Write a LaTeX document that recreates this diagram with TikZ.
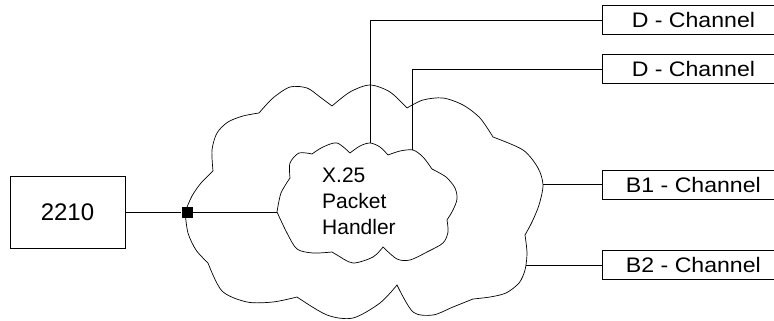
\documentclass[tikz,border=0pt]{standalone}
\usepackage{fontspec}
\setmainfont{Liberation Sans}
\newfontfamily\chanfont[FakeStretch=1.1]{Liberation Sans}
\usetikzlibrary{calc}

\tikzset{
	cloud/.style={line width=0.7pt},
	wire/.style={line width=0.7pt},
	chanbox/.style={draw,line width=0.8pt,anchor=west,minimum width=182pt,minimum height=29pt,inner sep=0pt,font=\chanfont\fontsize{21}{24}\selectfont}
}

\begin{document}
\begin{tikzpicture}[x=1pt,y=-1pt]
					\clip (0,0) rectangle (774,321);
					%OUTER CLOUD
					\draw[cloud] plot[smooth] coordinates {(185,212) (192,196) (201,183) (213,171)}
						--plot[smooth] coordinates {(213,171) (212,150) (217,133) (228,122) (243,116) (259,113)}
						--plot[smooth] coordinates {(259,113) (273,98) (290,87) (307,88) (320,97) (332,106)}
						--plot[smooth] coordinates {(332,106) (350,92) (370,85) (390,92) (407,108)}
						--plot[smooth] coordinates {(407,108) (423,100) (443,98) (463,105) (480,118) (493,137)}
						--plot[smooth] coordinates {(493,137) (523,150) (538,168) (543,185) (539,205) (532,222) (525,235)}
						--plot[smooth] coordinates {(525,235) (527,253) (525,270) (519,283) (506,293) (490,297) (473,299)}
						--plot[smooth] coordinates {(473,299) (453,307) (433,315) (413,312) (397,285)}
						--plot[smooth] coordinates {(397,285) (380,303) (353,318) (327,315) (297,297)}
						--plot[smooth] coordinates {(297,297) (273,302) (247,302) (222,291) (208,263)}
						--plot[smooth] coordinates {(208,263) (196,250) (188,233) (185,212)};
					%INNER CLOUD
					\draw[cloud] plot[smooth] coordinates {(277,212) (281,193) (290,178)}
						--plot[smooth] coordinates {(290,178) (290,163) (299,153) (312,154)}
						--plot[smooth] coordinates {(312,154) (323,147) (337,143) (350,153)}
						--plot[smooth] coordinates {(350,153) (360,146) (370,143) (380,147) (388,155)}
						--plot[smooth] coordinates {(388,155) (400,151) (413,150) (423,157) (432,169)}
						--plot[smooth] coordinates {(432,169) (446,177) (455,188) (457,199) (453,210) (447,220)}
						--plot[smooth] coordinates {(447,220) (448,232) (443,243) (427,252) (410,260) (397,259) (383,247)}
						--plot[smooth] coordinates {(383,247) (373,257) (353,263) (337,255) (332,252)}
						--plot[smooth] coordinates {(332,252) (313,253) (297,249) (287,233) (277,212)};
					\coordinate (inL) at (277,212);
					\coordinate (inD1) at (370,143);
					\coordinate (inD2) at (412,150);
					\coordinate (outB1) at (543,184);
					\coordinate (outB2) at (526,265);
					\node[anchor=north west,align=left,inner sep=0pt,font=\fontsize{21}{26}\selectfont] (handler) at (322,168) {X.25\\Packet\\Handler};
					%LEFT SIDE
					\node[draw,line width=0.8pt,minimum width=115pt,minimum height=72pt,font=\fontsize{24}{26}\selectfont] (box2210) at (67.5,212) {2210};
					\node[fill=black,minimum size=11pt,inner sep=0pt] (junction) at (187,212) {};
					\draw[wire] (box2210) -- (junction) -- (inL);
					%CHANNELS
					\node[chanbox] (dchanA) at (602,20) {D - Channel};
					\node[chanbox] (dchanB) at (602,69) {D - Channel};
					\node[chanbox] (bchanA) at (602,185) {B1 - Channel};
					\node[chanbox] (bchanB) at (602,265) {B2 - Channel};
					\draw[wire] (inD1) |- (dchanA.west);
					\draw[wire] (inD2) |- (dchanB.west);
					\draw[wire] (outB1) -- (outB1 -| bchanA.west);
					\draw[wire] (outB2) -- (outB2 -| bchanB.west);
\end{tikzpicture}
\end{document}
